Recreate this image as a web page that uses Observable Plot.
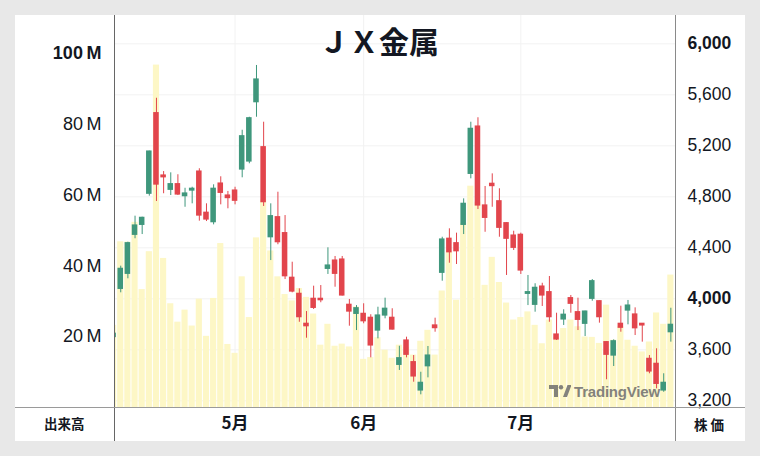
<!DOCTYPE html>
<html>
<head>
<meta charset="utf-8">
<script src="https://cdn.jsdelivr.net/npm/d3@7"></script>
<script src="https://cdn.jsdelivr.net/npm/@observablehq/plot@0.6"></script>
<style>
  html, body { margin: 0; padding: 0; background: #e8e8e8; }
  #wrap { position: relative; width: 760px; height: 456px; overflow: hidden; background: #e8e8e8;
          font-family: "Liberation Sans", Arial, sans-serif; }
  #card { position: absolute; left: 15px; top: 15px; width: 730px; height: 426px; background: #fff; }
  .layer { position: absolute; left: 0; top: 0; }
  .line { position: absolute; }
  .jp { position: absolute; font-family: "Noto Sans CJK JP", sans-serif; font-weight: 700; color: #131722; white-space: nowrap; }
  #title { left: 0; width: 758px; text-align: center; top: 22px; font-size: 30px; line-height: 36px; }
  #wm { position: absolute; left: 549px; top: 383px; display: flex; align-items: center; opacity: 0.85; }
  #wm span { font-family: "Liberation Sans", Arial, sans-serif; font-weight: 700; font-size: 15px; color: #6e6e6e; margin-left: 3px; letter-spacing: -0.2px; }
</style>
</head>
<body>
<div id="wrap">
  <div id="card"></div>
  <div id="l1" class="layer"></div>
  <div id="l2" class="layer"></div>
  <div id="wm">
    <svg width="22" height="13" viewBox="0 0 22 13"><path d="M0 0h9v12h-4v-8h-5z" fill="#6e6e6e"/><circle cx="12" cy="2.2" r="2.2" fill="#6e6e6e"/><path d="M14 12l4.5-12h4l-4.5 12z" fill="#6e6e6e"/></svg>
    <span>TradingView</span>
  </div>
  <div id="l3" class="layer"></div>
  <div class="line" style="left:114px;top:15px;width:1px;height:426px;background:#666;"></div>
  <div class="line" style="left:675px;top:15px;width:1px;height:426px;background:#8a8a8a;"></div>
  <div class="line" style="left:15px;top:407px;width:730px;height:1px;background:#9a9a9a;"></div>
  <div id="title" class="jp">ＪＸ金属</div>
  <div class="jp" style="left:44px;top:414px;font-size:13.5px;line-height:18px;">出来高</div>
  <div class="jp" style="left:694px;top:415px;font-size:13.5px;line-height:18px;">株 価</div>
</div>
<script>
// ---- data ----
const open   = [3700,4078,4196,4502,4580,4824,5456,4967,4855,4899,4805,4849,4998,4675,4601,4904,4810,4849,5014,5077,5542,5189,4483,4640,4515,4165,4039,3804,4000,4000,4235,4300,4308,3953,3882,3882,3851,3751,3869,3851,3482,3673,3503,3281,3471,3791,4204,4471,4436,4580,4980,5351,4732,4902,4765,4593,4496,4502,4039,3953,4096,4052,3720,3838,4005,3895,3804,4000,3981,3660,3555,3804,3908,3877,3804,3529,3490,3281,3738];
const close  = [3726,4235,4436,4575,4635,5155,4896,4953,4899,4818,4826,4863,4653,4622,4863,4831,4790,4769,5275,5416,5720,4758,4648,4444,4177,4057,3856,3785,3929,3989,4261,4196,4026,3900,3926,3824,3634,3869,3922,3759,3534,3561,3391,3341,3555,3770,4465,4365,4373,4745,5333,4732,4635,4884,4557,4471,4400,4222,4052,4086,4026,3856,3681,3875,3961,3835,3900,4138,3856,3561,3667,3773,3947,3769,3791,3430,3333,3341,3796];
const high   = [3730,4256,4444,4648,4640,5158,5573,4998,4988,4973,4867,4875,5020,4745,4894,4957,4842,4875,5322,5424,5830,5385,4745,4836,4653,4287,4078,3900,4099,4104,4400,4332,4332,3995,3947,3961,3875,3934,4005,3922,3628,3699,3555,3424,3626,3848,4483,4549,4515,4784,5385,5420,4881,4980,4863,4596,4530,4515,4183,4118,4122,4175,3887,3914,4026,4005,3903,4151,3984,3663,3678,3942,3987,3929,3806,3555,3608,3412,3926];
const low    = [3697,4047,4157,4471,4504,4805,4763,4824,4810,4810,4718,4745,4609,4606,4580,4737,4706,4737,4949,5059,5424,4724,4300,4424,4151,4047,3816,3691,3916,3969,4191,4091,4022,3785,3751,3804,3537,3686,3843,3755,3438,3537,3346,3247,3380,3738,4138,4279,4269,4504,4941,4700,4522,4718,4483,4183,4379,4191,3947,3895,3940,3816,3673,3791,3887,3751,3704,3981,3809,3365,3469,3738,3796,3712,3660,3412,3294,3267,3660];
const volume = [23.2,46.8,46.7,52.3,33.3,44.0,96.7,42.1,29.3,24.1,27.5,23.0,30.6,20.1,30.8,46.3,17.8,15.3,36.9,25.4,47.9,58.6,44.2,36.9,31.9,30.1,33.6,31.1,26.4,17.6,23.5,17.3,17.9,17.1,28.4,13.6,14.1,19.7,16.2,13.9,17.6,17.0,14.8,18.7,21.8,14.8,32.9,43.9,30.3,52.0,62.5,58.0,34.5,42.4,35.3,29.5,24.7,25.4,27.0,23.2,18.0,24.7,19.9,22.3,24.7,22.8,19.9,19.8,18.1,28.9,19.0,22.8,19.0,17.3,15.7,18.5,26.7,23.5,37.4]; // millions
const monthStarts = [17, 35, 57];         // index of first session of month
const monthLabels = ["5月", "6月", "7月"];
const priceTicks  = [3200, 3600, 4000, 4400, 4800, 5200, 5600, 6000];
const volumeTicks = [20, 40, 60, 80, 100];
const priceBold = [4000, 6000];
const volumeBold = [100];

const candles = open.map((o, i) => ({i, open: o, close: close[i], high: high[i], low: low[i], vol: volume[i]}));

const UP = "#3f977c", DOWN = "#e2454c", VOL = "#fdf7c6", GRID = "#f2f2f2", INK = "#131722";
const FONT = "'Liberation Sans', Arial, sans-serif";
const xOpts = {domain: [0.126, 78.65]};
const priceY = {domain: [3147.5, 6222]};
const volY = {domain: [0, 110.7]};
const isUp = d => d.close >= d.open;

function layer(marks, x, y) {
  return Plot.plot({
    width: 760, height: 456,
    marginLeft: 114, marginRight: 85, marginTop: 15, marginBottom: 49,
    x, y,
    style: {background: "transparent", fontFamily: FONT, overflow: "visible"},
    marks
  });
}

// layer 1: grid + price axis
document.getElementById("l1").append(layer([
  Plot.ruleY(priceTicks, {stroke: GRID, strokeWidth: 1}),
  Plot.ruleX(monthStarts, {stroke: GRID, strokeWidth: 1}),
  Plot.axisY(priceTicks.filter(t => !priceBold.includes(t)), {anchor: "right", tickSize: 0, tickPadding: 12, fontSize: 17.5, fill: INK, tickFormat: d3.format(","), label: null}),
  Plot.axisY(priceBold, {anchor: "right", tickSize: 0, tickPadding: 12, fontSize: 17.5, fontWeight: "bold", fill: INK, tickFormat: d3.format(","), label: null})
], {...xOpts, axis: null}, priceY));

// layer 2: volume bars + volume axis + month axis
document.getElementById("l2").append(layer([
  Plot.rect(candles, {x1: d => d.i - 0.5, x2: d => d.i + 0.5, y1: 0, y2: "vol", fill: VOL, insetLeft: 0.5, insetRight: 0.5, clip: true}),
  Plot.axisY(volumeTicks.filter(t => !volumeBold.includes(t)), {anchor: "left", tickSize: 0, tickPadding: 13, fontSize: 18, fill: INK, tickFormat: d => d + "\u2009M", label: null}),
  Plot.axisY(volumeBold, {anchor: "left", tickSize: 0, tickPadding: 13, fontSize: 18, fontWeight: "bold", fill: INK, tickFormat: d => d + "\u2009M", label: null}),
  Plot.axisX(monthStarts, {anchor: "bottom", tickSize: 0, tickPadding: 9, fontSize: 17, fontWeight: "bold", fill: INK, fontFamily: "'Noto Sans CJK JP', sans-serif", tickFormat: d => monthLabels[monthStarts.indexOf(d)], label: null})
], xOpts, volY));

// layer 3: candles
document.getElementById("l3").append(layer([
  Plot.ruleX(candles, {filter: isUp, x: "i", y1: "low", y2: "high", stroke: UP, strokeWidth: 1, clip: true}),
  Plot.ruleX(candles, {filter: d => !isUp(d), x: "i", y1: "low", y2: "high", stroke: DOWN, strokeWidth: 1, clip: true}),
  Plot.rect(candles, {filter: isUp, x1: d => d.i - 0.5, x2: d => d.i + 0.5, y1: "open", y2: "close", fill: UP, insetLeft: 0.8, insetRight: 0.8, insetTop: -0.6, insetBottom: -0.6, clip: true}),
  Plot.rect(candles, {filter: d => !isUp(d), x1: d => d.i - 0.5, x2: d => d.i + 0.5, y1: "open", y2: "close", fill: DOWN, insetLeft: 0.8, insetRight: 0.8, insetTop: -0.6, insetBottom: -0.6, clip: true})
], {...xOpts, axis: null}, {...priceY, axis: null}));
</script>
</body>
</html>
